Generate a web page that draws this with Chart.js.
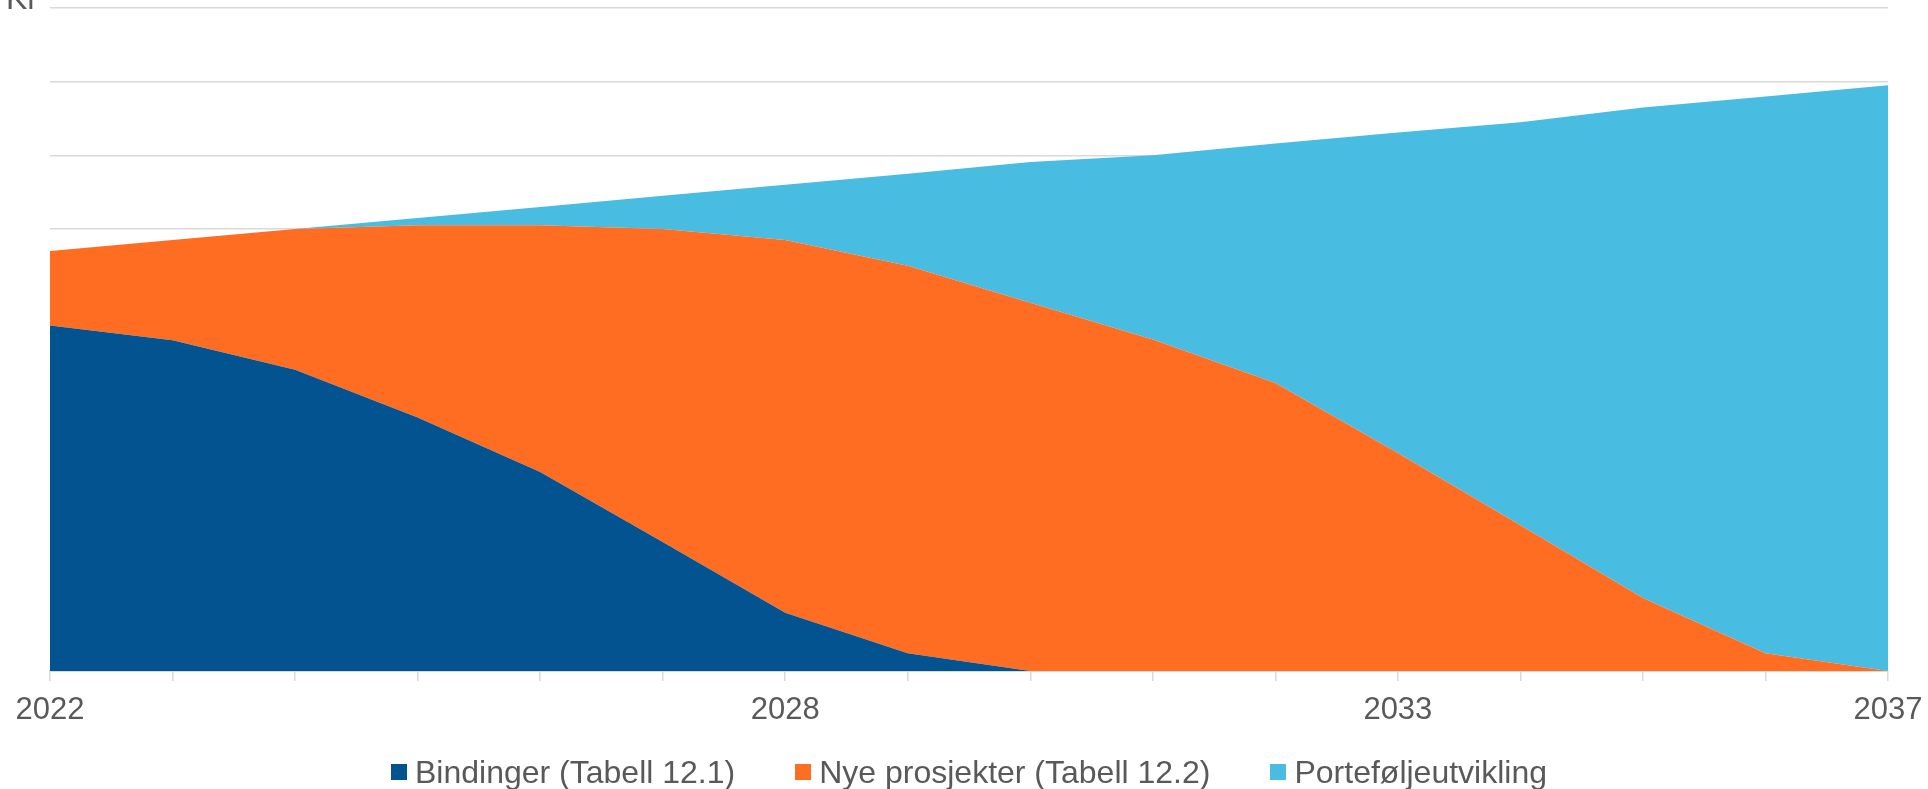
<!DOCTYPE html>
<html>
<head>
<meta charset="utf-8">
<script src="https://cdn.jsdelivr.net/npm/chart.js@4/dist/chart.umd.min.js"></script>
<style>
  html, body { margin: 0; padding: 0; background: #fff; }
  #wrap { width: 1928px; height: 789px; position: relative; }
  #legend {
    position: absolute; left: 50px; width: 1838px; top: 753px; height: 38px;
    display: flex; justify-content: center; align-items: center; gap: 60px;
    font: 32px "Liberation Sans", Arial, sans-serif; color: #595959;
  }
  #legend .item { display: flex; align-items: center; white-space: nowrap; }
  #legend .box { width: 16px; height: 16px; margin-right: 8px; }
</style>
</head>
<body>
<div id="wrap">
  <canvas id="chart"></canvas>
  <div id="legend"></div>
</div>
<script>
const years = ['2022', '2023', '2024', '2025', '2026', '2027', '2028', '2029', '2030', '2031', '2032', '2033', '2034', '2035', '2036', '2037'];
const shownYears = ['2022', '2028', '2033', '2037'];

const bindinger = [4.69, 4.49, 4.09, 3.44, 2.70, 1.75, 0.79, 0.24, 0, 0, 0, 0, 0, 0, 0, 0];
const nyeProsjekter = [1.01, 1.36, 1.91, 2.61, 3.35, 4.25, 5.06, 5.26, 5.00, 4.50, 3.91, 2.96, 1.98, 0.99, 0.24, 0];
const portefolje = [0, 0, 0, 0.10, 0.25, 0.45, 0.75, 1.25, 1.91, 2.50, 3.25, 4.35, 5.47, 6.66, 7.56, 7.95];

const unitLabel = 'Kr';
const textColor = '#595959';
const gridColor = '#d9d9d9';

// "Kr" sits in the top-left corner, mostly cut off by the canvas edge
const unitPlugin = {
  id: 'unitLabel',
  afterDraw(chart) {
    const ctx = chart.ctx;
    ctx.save();
    ctx.font = '32px "Liberation Sans", Arial, sans-serif';
    ctx.fillStyle = textColor;
    ctx.textBaseline = 'alphabetic';
    ctx.fillText(unitLabel, 6, 9);
    ctx.restore();
  }
};

function area(label, data, color, fill) {
  return {
    label: label,
    data: data,
    backgroundColor: color,
    borderColor: color,
    borderWidth: 0,
    pointRadius: 0,
    tension: 0,
    fill: fill
  };
}

const chart = new Chart(document.getElementById('chart'), {
  type: 'line',
  data: {
    labels: years,
    datasets: [
      area('Bindinger (Tabell 12.1)', bindinger, '#02538f', 'origin'),
      area('Nye prosjekter (Tabell 12.2)', nyeProsjekter, '#ff6d22', '-1'),
      area('Porteføljeutvikling', portefolje, '#49bde1', '-1')
    ]
  },
  options: {
    responsive: true,
    maintainAspectRatio: false,
    animation: false,
    layout: { padding: { left: 50, right: 40, top: 8, bottom: 0 } },
    plugins: {
      tooltip: { enabled: false },
      legend: { display: false }
    },
    scales: {
      x: {
        grid: { display: true, drawOnChartArea: false, color: gridColor, tickLength: 10, lineWidth: 1.5 },
        border: { color: gridColor, width: 2 },
        ticks: {
          autoSkip: false,
          maxRotation: 0,
          color: textColor,
          padding: 11,
          font: { family: '"Liberation Sans", Arial, sans-serif', size: 31 },
          callback: function(value, index) {
            const y = years[index];
            return shownYears.includes(y) ? y : '';
          }
        },
        afterFit: function(scale) {
          scale.height = 118;
          // end labels may hang into the outer padding
          scale.paddingLeft = 0;
          scale.paddingRight = 0;
        }
      },
      y: {
        stacked: true,
        min: 0,
        max: 9,
        ticks: { display: false, stepSize: 1 },
        grid: { color: gridColor, lineWidth: 1.5, drawTicks: false },
        border: { display: false }
      }
    }
  },
  plugins: [unitPlugin]
});

// legend built from the chart's own datasets
const legendEl = document.getElementById('legend');
chart.data.datasets.forEach(ds => {
  const item = document.createElement('div');
  item.className = 'item';
  item.innerHTML = `<span class="box" style="background:${ds.backgroundColor}"></span><span>${ds.label}</span>`;
  legendEl.appendChild(item);
});
</script>
</body>
</html>
